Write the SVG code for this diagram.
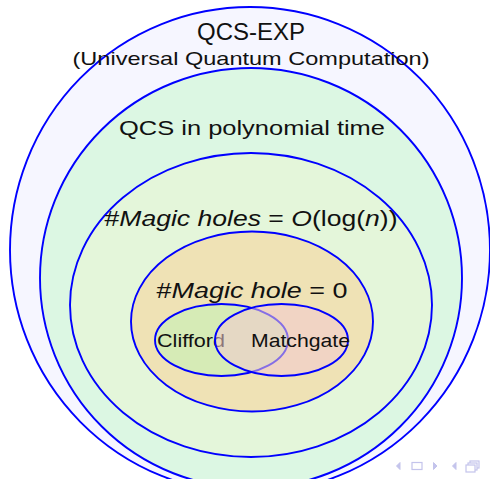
<svg xmlns="http://www.w3.org/2000/svg" width="490" height="479" viewBox="0 0 490 479">
<style>
.e{stroke:#0000ff;stroke-width:1.9}
.t{font-family:"Liberation Sans","DejaVu Sans",sans-serif;fill:#111;text-anchor:middle}
.i{font-style:italic}
.nav{fill:#c4c4ec;stroke:#c4c4ec}
</style>
<rect width="490" height="479" fill="#ffffff"/>
<g id="qcs-exp">
<ellipse class="e" cx="250" cy="250" rx="240" ry="243" fill="#f6f6ff"/>
<text class="t" x="251" y="40" font-size="23" textLength="108" lengthAdjust="spacingAndGlyphs">QCS-EXP</text>
<text class="t" x="251" y="65" font-size="18.5" textLength="357" lengthAdjust="spacingAndGlyphs">(Universal Quantum Computation)</text>
</g>
<g id="qcs-poly">
<ellipse class="e" cx="251" cy="278" rx="211" ry="210" fill="#dcf7e3"/>
<text class="t" x="252" y="135" font-size="21" textLength="266" lengthAdjust="spacingAndGlyphs">QCS in polynomial time</text>
</g>
<g id="magic-log">
<ellipse class="e" cx="251" cy="305" rx="181" ry="152" fill="#e4f6da"/>
<text class="t" x="251" y="226" font-size="22" textLength="293" lengthAdjust="spacingAndGlyphs">#<tspan class="i">Magic holes</tspan> = <tspan class="i">O</tspan>(log(<tspan class="i">n</tspan>))</text>
</g>
<g id="magic-zero">
<ellipse class="e" cx="252" cy="321.5" rx="121" ry="90" fill="#efe2b5"/>
<text class="t" x="252" y="298" font-size="22" textLength="191" lengthAdjust="spacingAndGlyphs">#<tspan class="i">Magic hole</tspan> = 0</text>
</g>
<g id="clifford">
<ellipse class="e" cx="221.5" cy="340" rx="66.5" ry="36" fill="#d6ebb6"/>
<text class="t" x="191" y="347" font-size="18" textLength="68" lengthAdjust="spacingAndGlyphs">Clifford</text>
</g>
<g id="matchgate">
<ellipse cx="281.5" cy="340" rx="66.5" ry="36" fill="#f2c8d0" fill-opacity="0.55"/>
<ellipse class="e" cx="281.5" cy="340" rx="66.5" ry="36" fill="none"/>
<text class="t" x="300.5" y="347" font-size="18" textLength="99" lengthAdjust="spacingAndGlyphs">Matchgate</text>
</g>
<g id="connectors"></g>
<g id="navigation">
<polygon class="nav" points="400,462.5 400,469.5 396.5,466"/>
<rect x="412" y="462.5" width="10" height="7" fill="none" stroke="#c4c4ec" stroke-width="1.2"/>
<polygon class="nav" points="433.5,462.5 433.5,469.5 437,466"/>
<polygon class="nav" points="456,462.5 456,469.5 452.5,466"/>
<rect x="470" y="461" width="9" height="7" fill="#fff" stroke="#c4c4ec" stroke-width="1.2"/>
<rect x="468" y="463" width="9" height="7" fill="#fff" stroke="#c4c4ec" stroke-width="1.2"/>
<rect x="466" y="465" width="9" height="7" fill="#fff" stroke="#c4c4ec" stroke-width="1.2"/>
</g>
</svg>
